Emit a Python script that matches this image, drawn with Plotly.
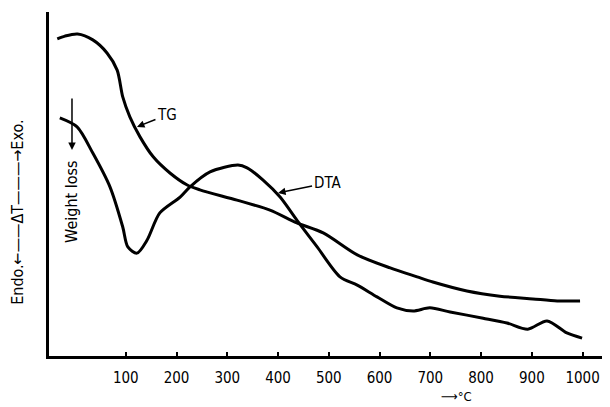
import plotly.graph_objects as go

# Temperature (°C) and relative signal (arbitrary units, 0-100)
tg_temp = [-35, -20, 5, 35, 63, 83, 94, 108, 128, 154, 187, 221, 246, 319, 384, 437,
           489, 556, 621, 674, 705, 772, 837, 902, 950, 995]
tg_val = [92.2, 93.0, 93.6, 91.9, 88.1, 83.1, 75.3, 69.5, 63.7, 57.9, 53.2, 49.7, 48.3,
          45.3, 42.4, 38.7, 35.8, 29.4, 25.6, 23.0, 21.5, 18.9, 17.4, 16.6, 16.0, 16.0]

dta_temp = [-30, 4, 35, 69, 94, 104, 122, 142, 167, 207, 226, 266, 321, 339, 370, 404,
            437, 477, 522, 556, 595, 634, 666, 699, 739, 804, 851, 892, 930, 969, 999]
dta_val = [69.2, 66.6, 59.0, 49.1, 37.5, 31.7, 29.9, 33.7, 41.6, 46.2, 49.1, 53.5, 55.5,
           54.7, 51.2, 46.2, 39.5, 31.7, 23.0, 20.6, 17.2, 14.0, 13.1, 14.0, 12.8, 11.0,
           9.6, 7.8, 10.2, 6.7, 5.2]

tick_vals = [100, 200, 300, 400, 500, 600, 700, 800, 900, 1000]
tick_text = [str(v) for v in tick_vals]

FONT = "DejaVu Sans Condensed, Liberation Sans Narrow, Arial, sans-serif"

fig = go.Figure()
fig.add_trace(go.Scatter(x=tg_temp, y=tg_val, mode="lines", name="TG",
                         line=dict(color="black", width=3, shape="spline", smoothing=0.8)))
fig.add_trace(go.Scatter(x=dta_temp, y=dta_val, mode="lines", name="DTA",
                         line=dict(color="black", width=3, shape="spline", smoothing=0.8)))

fig.update_layout(
    width=602, height=399,
    margin=dict(l=41, r=0, t=4, b=51),
    paper_bgcolor="white", plot_bgcolor="white",
    showlegend=False,
    font=dict(family=FONT, size=15, color="black"),
    xaxis=dict(range=[-51.3, 1054], showgrid=False, zeroline=False, automargin=False,
               showline=True, linecolor="black", linewidth=3,
               tickmode="array", tickvals=tick_vals, ticktext=tick_text,
               ticks="inside", ticklen=4, tickwidth=1.5, tickcolor="black",
               ticklabelstandoff=6,
               tickfont=dict(family=FONT, size=15, color="black")),
    yaxis=dict(range=[0, 100], showgrid=False, zeroline=False, automargin=False,
               showline=True, linecolor="black", linewidth=3,
               showticklabels=False, ticks=""),
)

# Curve labels with arrows
fig.add_annotation(x=122, y=66.6, xref="x", yref="y", text="TG", showarrow=True,
                   ax=30, ay=-12, arrowhead=2, arrowsize=1, arrowwidth=1.5,
                   arrowcolor="black", font=dict(family=FONT, size=15))
fig.add_annotation(x=400, y=47.4, xref="x", yref="y", text="DTA", showarrow=True,
                   ax=49, ay=-10, arrowhead=2, arrowsize=1, arrowwidth=1.5,
                   arrowcolor="black", font=dict(family=FONT, size=15))

# Weight loss arrow + rotated text
fig.add_annotation(x=-6, y=59.9, xref="x", yref="y", text="", showarrow=True,
                   ax=0, ay=-53, arrowhead=2, arrowsize=1, arrowwidth=1.5,
                   arrowcolor="black")
fig.add_annotation(x=-6, y=44.8, xref="x", yref="y", text="Weight loss",
                   showarrow=False, textangle=-90, xanchor="center", yanchor="middle",
                   font=dict(family=FONT, size=16))

# Y axis description
fig.add_annotation(x=-0.0553, y=0.419, xref="paper", yref="paper",
                   text="Endo.\u2190\u2014\u2014\u0394T\u2014\u2014\u2014\u2192Exo.",
                   showarrow=False, textangle=-90, xanchor="center", yanchor="middle",
                   font=dict(family=FONT, size=16))

# X axis unit
fig.add_annotation(x=0.7255, y=-0.117, xref="paper", yref="paper",
                   text="\u27f6\u00b0C", showarrow=False,
                   xanchor="center", yanchor="middle",
                   font=dict(family=FONT, size=13))

fig.write_html("out.html")
